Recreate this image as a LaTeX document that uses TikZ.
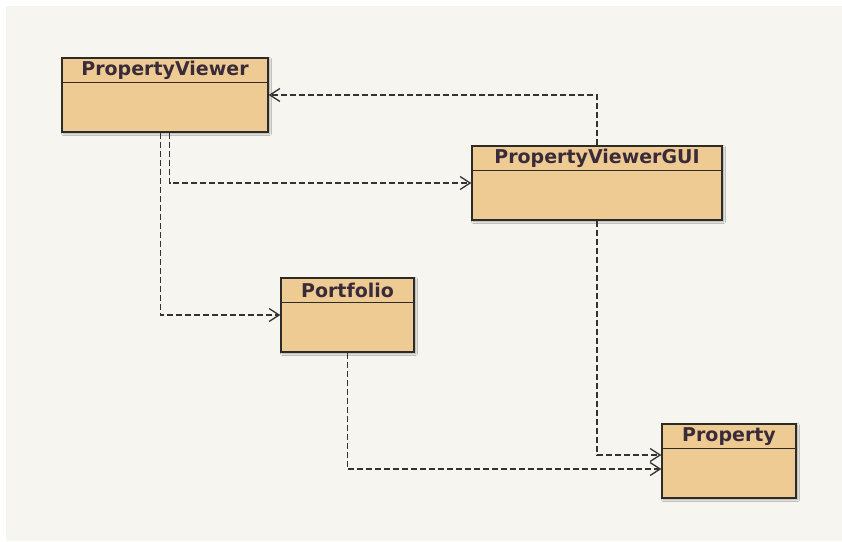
\documentclass[tikz,border=0pt]{standalone}
\usepackage{fontspec}
\setmainfont{DejaVu Sans}
\usetikzlibrary{arrows.meta,calc,shadows.blur}
\definecolor{bgc}{HTML}{F7F5F0}
\definecolor{boxfill}{HTML}{EFCB94}
\definecolor{boxline}{HTML}{2E2A28}
\definecolor{txtc}{HTML}{3A2B3A}
\definecolor{dep}{HTML}{333333}
\tikzset{
  cls/.style={draw=boxline, line width=1.4pt, fill=boxfill, minimum height=74pt, inner sep=0pt,
    blur shadow={shadow xshift=1.5pt, shadow yshift=-1.5pt, shadow blur steps=6, shadow blur radius=2pt, shadow opacity=35}},
  ttl/.style={font=\bfseries\fontsize{19}{22}\selectfont, text=txtc, inner sep=0pt},
  depend/.style={draw=dep, line width=1.3pt, dash pattern=on 6pt off 3pt, -{Straight Barb[length=10pt,width=13pt,line width=1.3pt]}},
}
\begin{document}
\begin{tikzpicture}[x=1pt,y=-1pt]
\useasboundingbox (0,0) rectangle (842,541);
\fill[bgc] (6,6) rectangle (842,541);
% classes
\node[cls, minimum width=206pt] (pv) at (165,95) {};
\node[cls, minimum width=250pt] (gui) at (597,183) {};
\node[cls, minimum width=133pt] (pf) at (347.5,315) {};
\node[cls, minimum width=134pt] (pr) at (729,461) {};
\foreach \n/\t in {pv/PropertyViewer, gui/PropertyViewerGUI, pf/Portfolio, pr/Property}{
  \draw[boxline, line width=1.6pt] ($(\n.north west)+(0,25)$) -- ($(\n.north east)+(0,25)$);
  \node[ttl] (\n-t) at ($(\n.north)+(0,13)$) {\t};
}
% dependencies
\draw[depend] (gui.north) |- (pv.east);
\draw[depend] ($(pv.south)+(4.5,0)$) |- (gui.west);
\draw[depend] ($(pv.south)+(-4.5,0)$) |- (pf.west);
\draw[depend] (pf.south) |- ($(pr.west)+(0,8)$);
\draw[depend] (gui.south) |- ($(pr.west)+(0,-6)$);
\end{tikzpicture}
\end{document}
